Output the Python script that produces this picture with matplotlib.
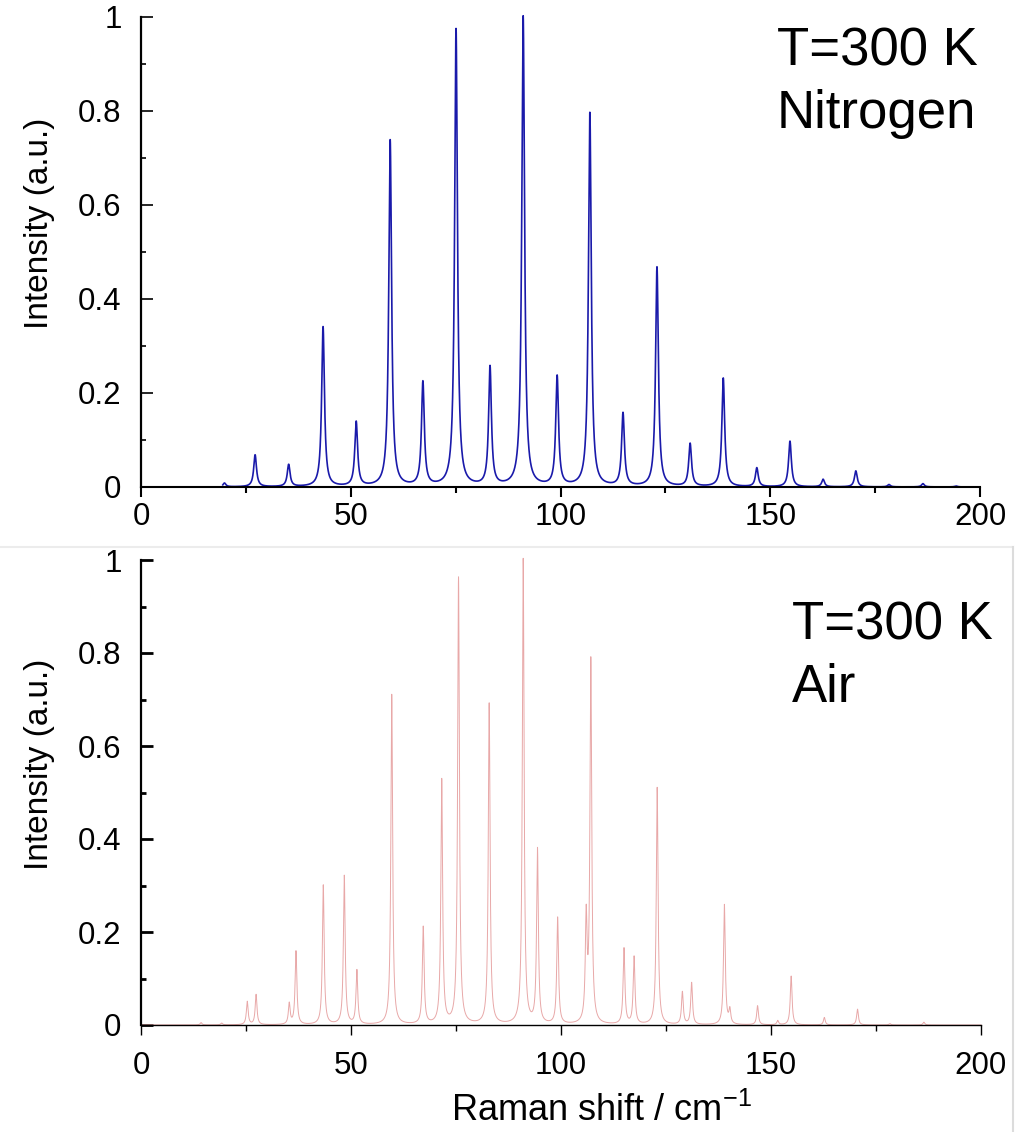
# Rotational Raman spectra of N2 and air at 300 K
import numpy as np
import matplotlib.pyplot as plt
from matplotlib.lines import Line2D
from matplotlib.ticker import MultipleLocator

plt.rcParams['font.family'] = ['Liberation Sans', 'DejaVu Sans']
plt.rcParams['mathtext.default'] = 'regular'

# peak positions (cm-1) and relative heights
n2_shift = [19.9, 27.2, 35.2, 43.4, 51.3, 59.4, 67.2, 75.1, 83.2, 91.1, 99.2, 107.0,
            114.9, 123.0, 130.9, 138.8, 146.8, 154.7, 162.6, 170.4, 178.3, 186.4, 194.3]
n2_int = [0.008, 0.068, 0.047, 0.34, 0.137, 0.737, 0.221, 0.973, 0.253, 1.0, 0.233, 0.795,
          0.155, 0.467, 0.091, 0.231, 0.040, 0.097, 0.016, 0.034, 0.005, 0.007, 0.002]

air_shift = [14.3, 19.2, 25.3, 27.4, 35.3, 36.9, 43.4, 48.4, 51.4, 59.7, 67.2, 71.6,
             75.6, 82.9, 91.0, 94.4, 99.2, 106.0, 107.1, 115.0, 117.4, 122.9, 128.9,
             131.1, 138.9, 140.2, 146.8, 151.6, 154.8, 162.7, 170.6, 178.3, 186.4]
air_int = [0.005, 0.004, 0.05, 0.065, 0.045, 0.158, 0.30, 0.32, 0.116, 0.71, 0.209, 0.525,
           0.96, 0.69, 1.0, 0.375, 0.229, 0.22, 0.78, 0.163, 0.145, 0.51, 0.07,
           0.09, 0.258, 0.03, 0.041, 0.009, 0.105, 0.016, 0.034, 0.003, 0.006]


def spectrum(x, pos, amp, g):
    y = np.zeros_like(x)
    for p, a in zip(pos, amp):
        y += a * g**2 / ((x - p)**2 + g**2)
    return y


x_n2 = np.arange(19.5, 196.0, 0.01)
y_n2 = spectrum(x_n2, n2_shift, n2_int, 0.4)
x_air = np.arange(0.0, 200.0, 0.01)
y_air = spectrum(x_air, air_shift, air_int, 0.25)

fig = plt.figure(figsize=(10.25, 11.32), dpi=100)
ax1 = fig.add_axes([141/1025, 1 - 487/1132, 839/1025, 470/1132])
ax2 = fig.add_axes([141/1025, 1 - 1025/1132, 840/1025, 465/1132])

ax1.plot(x_n2, y_n2, color='#1a1aaa', lw=1.2, clip_on=False)
ax2.plot(x_air, y_air, color='#e8a8a8', lw=0.7, clip_on=False)

for ax, lw in ((ax1, 1.5), (ax2, 1.0)):
    ax.set_xlim(0, 200)
    ax.set_ylim(0, 1)
    ax.spines['top'].set_visible(False)
    ax.spines['right'].set_visible(False)
    ax.spines['left'].set_linewidth(1.6)
    ax.spines['bottom'].set_linewidth(lw)
    ax.xaxis.set_major_locator(MultipleLocator(50))
    ax.xaxis.set_minor_locator(MultipleLocator(25))
    ax.yaxis.set_major_locator(MultipleLocator(0.2))
    ax.yaxis.set_minor_locator(MultipleLocator(0.1))
    ax.set_yticks([0, 0.2, 0.4, 0.6, 0.8, 1.0])
    ax.set_yticklabels(['0', '0.2', '0.4', '0.6', '0.8', '1'])
    ax.tick_params(axis='y', which='major', direction='in', length=8.5, width=1.2,
                   labelsize=22.5, pad=14)
    ax.tick_params(axis='y', which='minor', direction='in', length=3.5, width=1.2)
    ax.tick_params(axis='x', which='major', direction='out', length=7, width=lw,
                   labelsize=22.5, pad=4)
    ax.tick_params(axis='x', which='minor', direction='out', length=4, width=lw)
    ax.set_ylabel('Intensity (a.u.)', fontsize=24)

ax1.yaxis.set_label_coords(-0.1025, 0.56)
ax2.yaxis.set_label_coords(-0.1025, 0.561)
ax2.tick_params(axis='y', which='both', width=2)
ax2.tick_params(axis='x', which='major', pad=12)

ax2.set_xlabel('Raman shift / cm$^{-1}$', fontsize=26)
ax2.xaxis.set_label_coords(0.548, -0.145)

fig.text(777/1025, 1 - 65/1132, 'T=300 K', fontsize=38, va='baseline')
fig.text(777/1025, 1 - 128/1132, 'Nitrogen', fontsize=38, va='baseline')
fig.text(792/1025, 1 - 640/1132, 'T=300 K', fontsize=38, va='baseline')
fig.text(792/1025, 1 - 702/1132, 'Air', fontsize=38, va='baseline')

# faint border of the pasted lower picture
fig.add_artist(Line2D([0, 1013/1025], [1 - 547/1132, 1 - 547/1132], color='#ececec', lw=1.5))
fig.add_artist(Line2D([1013/1025, 1013/1025], [0, 1 - 547/1132], color='#dcdcdc', lw=1.5))

fig.savefig('out.png', dpi=100)
